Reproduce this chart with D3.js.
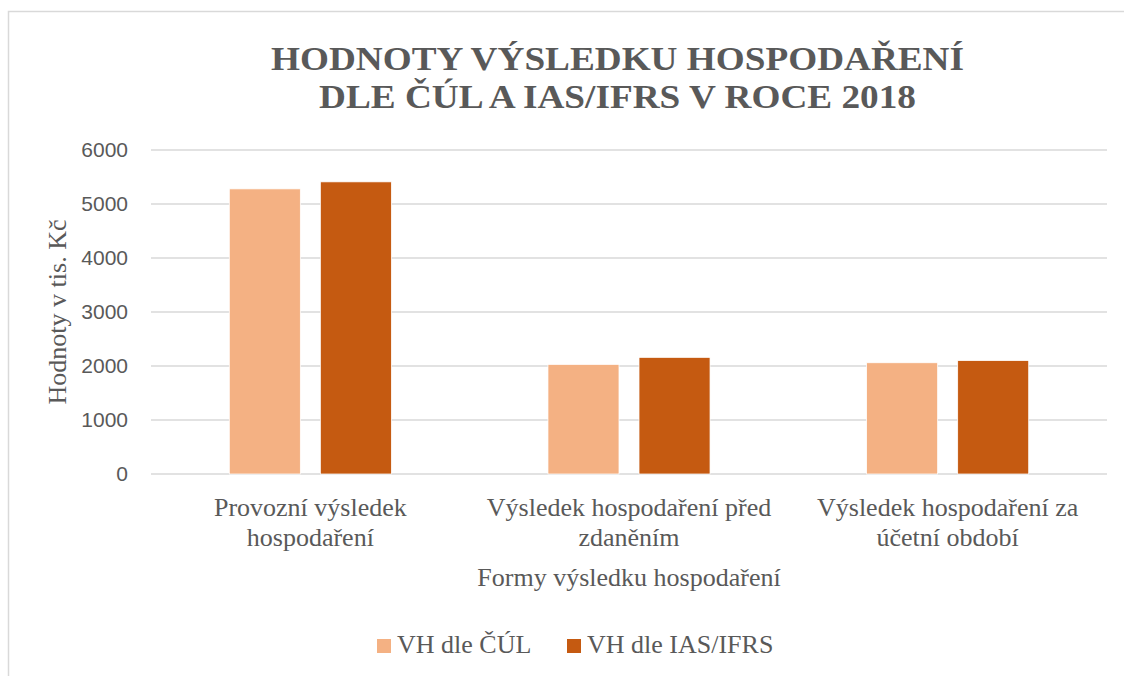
<!DOCTYPE html>
<html>
<head>
<meta charset="utf-8">
<script src="https://cdn.jsdelivr.net/npm/d3@7"></script>
<style>
  body { margin: 0; background: #fff; }
  svg { display: block; }
</style>
</head>
<body>
<div id="chart"></div>
<script>
// data
const categories = [
  ["Provozní výsledek", "hospodaření"],
  ["Výsledek hospodaření před", "zdaněním"],
  ["Výsledek hospodaření za", "účetní období"]
];
const seriesNames = ["VH dle ČÚL", "VH dle IAS/IFRS"];
const cul = [5280, 2030, 2060];
const ifrs = [5410, 2160, 2100];
const yTicks = [0, 1000, 2000, 3000, 4000, 5000, 6000];
const titleLines = ["HODNOTY VÝSLEDKU HOSPODAŘENÍ", "DLE ČÚL A IAS/IFRS V ROCE 2018"];

const colors = ["#F4B183", "#C55A11"];
const textGray = "#595959";
const serif = "'Liberation Serif', 'Times New Roman', serif";

// plot area
let margin = {top: 150, right: 17, bottom: 202, left: 151},
    W = 1124, H = 676,
    width = W - margin.left - margin.right,
    height = H - margin.top - margin.bottom;

let svg = d3.select("#chart")
  .append("svg")
    .attr("width", W)
    .attr("height", H);

// chart border
svg.append("rect")
  .attr("x", 8.5).attr("y", 11.5)
  .attr("width", 1130).attr("height", 680)
  .attr("fill", "none")
  .attr("stroke", "#d9d9d9")
  .attr("stroke-width", 1.5);

// title
svg.append("g").selectAll("text")
  .data(titleLines)
  .enter().append("text")
    .attr("x", 617.5)
    .attr("y", (d, i) => 70 + i * 38)
    .attr("text-anchor", "middle")
    .attr("textLength", (d, i) => i === 0 ? 693 : 597)
    .attr("lengthAdjust", "spacingAndGlyphs")
    .style("font-family", serif)
    .style("font-weight", "bold")
    .style("font-size", "34px")
    .style("fill", textGray)
    .text(d => d);

let g = svg.append("g")
  .attr("transform", "translate(" + margin.left + "," + margin.top + ")");

let idx = d3.range(categories.length);

let x0 = d3.scaleBand()
  .domain(idx)
  .range([0, width]);

let x1 = d3.scaleBand()
  .domain(d3.range(seriesNames.length))
  .range([0, x0.bandwidth()])
  .paddingInner(0.22)
  .paddingOuter(0.86);

let y = d3.scaleLinear()
  .domain([0, 6000])
  .range([height, 0]);

// gridlines
g.append("g").selectAll("line")
  .data(yTicks)
  .enter().append("line")
    .attr("x1", 0).attr("x2", width)
    .attr("y1", d => y(d)).attr("y2", d => y(d))
    .attr("stroke", "#d9d9d9")
    .attr("stroke-width", 1.5);

// y axis labels
let yAxis = g.append("g")
  .call(d3.axisLeft(y).tickValues(yTicks).tickFormat(d3.format("d")).tickSize(0).tickPadding(23));
yAxis.select(".domain").remove();
yAxis.selectAll("text")
  .style("font-family", "'Liberation Sans', Arial, sans-serif")
  .style("font-size", "21px")
  .style("fill", textGray);

// bars
let values = [cul, ifrs];
let groups = g.append("g").selectAll("g")
  .data(idx)
  .enter().append("g")
    .attr("transform", d => "translate(" + x0(d) + ",0)");

groups.selectAll("rect")
  .data(i => values.map((s, k) => ({k: k, v: s[i]})))
  .enter().append("rect")
    .attr("x", d => x1(d.k))
    .attr("y", d => y(d.v))
    .attr("width", x1.bandwidth())
    .attr("height", d => height - y(d.v))
    .attr("fill", d => colors[d.k])
    .attr("stroke", "#fff")
    .attr("stroke-width", 0.75);

// category labels
let catLabels = g.append("g").selectAll("text")
  .data(idx)
  .enter().append("text")
    .attr("text-anchor", "middle")
    .attr("transform", d => "translate(" + (x0(d) + x0.bandwidth() / 2) + "," + (height + 42) + ")")
    .style("font-family", serif)
    .style("font-size", "26px")
    .style("fill", textGray);

catLabels.selectAll("tspan")
  .data(d => categories[d])
  .enter().append("tspan")
    .attr("x", 0)
    .attr("y", (d, i) => i * 30)
    .text(d => d);

// x axis title
g.append("text")
  .attr("x", width / 2)
  .attr("y", height + 112)
  .attr("text-anchor", "middle")
  .style("font-family", serif)
  .style("font-size", "26px")
  .style("fill", textGray)
  .text("Formy výsledku hospodaření");

// y axis title
svg.append("text")
  .attr("transform", "translate(66," + (margin.top + height / 2) + ") rotate(-90)")
  .attr("text-anchor", "middle")
  .style("font-family", serif)
  .style("font-size", "26px")
  .style("fill", textGray)
  .text("Hodnoty v tis. Kč");

// legend
let legendX = [377, 567];
let legend = svg.append("g").selectAll("g")
  .data(seriesNames)
  .enter().append("g")
    .attr("transform", (d, i) => "translate(" + legendX[i] + ",639)");

legend.append("rect")
  .attr("width", 14).attr("height", 14)
  .attr("fill", (d, i) => colors[i]);

legend.append("text")
  .attr("x", 20)
  .attr("y", 14)
  .style("font-family", serif)
  .style("font-size", "26px")
  .style("fill", textGray)
  .text(d => d);
</script>
</body>
</html>
